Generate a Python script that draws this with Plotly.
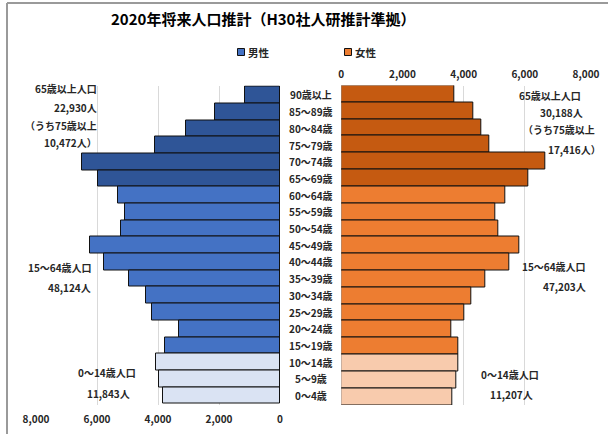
import plotly.graph_objects as go

W, H = 608, 434

ages = ["90歳以上", "85～89歳", "80～84歳", "75～79歳", "70～74歳", "65～69歳",
        "60～64歳", "55～59歳", "50～54歳", "45～49歳", "40～44歳", "35～39歳",
        "30～34歳", "25～29歳", "20～24歳", "15～19歳", "10～14歳", "5～9歳", "0～4歳"]
male = [1150, 2130, 3090, 4100, 6500, 5960,
        5300, 5080, 5210, 6220, 5760, 4950, 4400, 4200, 3320, 3760,
        4060, 3980, 3830]
female = [3690, 4310, 4590, 4850, 6670, 6120,
          5370, 5030, 5130, 5830, 5480, 4720, 4250, 4020, 3590, 3820,
          3840, 3750, 3620]
groups = ["65+"] * 6 + ["15-64"] * 10 + ["0-14"] * 3
male_colors = {"65+": "#2F5597", "15-64": "#4472C4", "0-14": "#DAE3F3"}
female_colors = {"65+": "#C55A11", "15-64": "#ED7D31", "0-14": "#F8CBAD"}
ticks = [0, 2000, 4000, 6000, 8000]

title = "2020年将来人口推計（H30社人研推計準拠）"
left_notes = [("65歳以上人口", 99, 88, "right"), ("22,930人", 99, 107, "right"),
              ("（うち75歳以上", 99, 125, "right"), ("10,472人）", 99, 143, "right"),
              ("15～64歳人口", 60, 267, "center"), ("48,124人", 69, 287, "center"),
              ("0～14歳人口", 107, 372, "center"), ("11,843人", 108, 393, "center")]
right_notes = [("65歳以上人口", 550, 95, "center"), ("30,188人", 561, 113, "center"),
               ("（うち75歳以上", 559, 130, "center"), ("17,416人）", 574, 149, "center"),
               ("15～64歳人口", 554, 266, "center"), ("47,203人", 564, 286, "center"),
               ("0～14歳人口", 510, 374, "center"), ("11,207人", 511, 394, "center")]

FONT = "Noto Sans CJK JP"
TXT = "#262626"


def px(x):
    return x / W


def py(y):
    return 1 - y / H


fig = go.Figure()
fig.add_trace(go.Bar(
    x=male, y=ages, orientation="h", name="男性", xaxis="x", yaxis="y",
    marker=dict(color=[male_colors[g] for g in groups], line=dict(color="#111", width=1)),
    showlegend=False, hoverinfo="x+y"))
fig.add_trace(go.Bar(
    x=female, y=ages, orientation="h", name="女性", xaxis="x2", yaxis="y2",
    marker=dict(color=[female_colors[g] for g in groups], line=dict(color="#111", width=1)),
    showlegend=False, hoverinfo="x+y"))

ydom = [py(405), py(85.5)]
tickfont = dict(family=FONT, size=10, color=TXT, weight="bold")
fig.update_layout(
    width=W, height=H, autosize=False, margin=dict(l=0, r=0, t=0, b=0, pad=0),
    paper_bgcolor="white", plot_bgcolor="rgba(0,0,0,0)",
    bargap=0,
    xaxis=dict(domain=[px(36), px(280)], range=[8000, 0], autorange=False, tickvals=ticks,
               tickformat=",", side="bottom", showgrid=True, gridcolor="#D9D9D9",
               gridwidth=1, zeroline=False, showline=False, ticks="",
               ticklabelstandoff=7,
               tickfont=tickfont, anchor="y", fixedrange=True, automargin=False),
    xaxis2=dict(domain=[px(341.3), px(586)], range=[0, 8000], autorange=False, tickvals=ticks,
                tickformat=",", side="top", showgrid=True, gridcolor="#D9D9D9",
                gridwidth=1, zeroline=False, showline=False, ticks="",
                ticklabelstandoff=5,
                tickfont=tickfont, anchor="y2", fixedrange=True, automargin=False),
    yaxis=dict(domain=ydom, autorange="reversed", showticklabels=False,
               showgrid=False, zeroline=False, anchor="x", type="category", automargin=False),
    yaxis2=dict(domain=ydom, autorange="reversed", showticklabels=False,
                showgrid=False, zeroline=False, anchor="x2", type="category", automargin=False),
)

annotations = []
annotations.append(dict(text=f"<b>{title}</b>", x=px(263), y=py(19), xref="paper", yref="paper",
                        showarrow=False, font=dict(family=FONT, size=15, color="#000"),
                        xanchor="center", yanchor="middle"))
for a in ages:
    annotations.append(dict(text=f"<b>{a}</b>", x=px(311), y=a, xref="paper", yref="y",
                            showarrow=False, font=dict(family=FONT, size=10, color=TXT),
                            xanchor="center", yanchor="middle"))
for t, x, y, anc in left_notes + right_notes:
    annotations.append(dict(text=f"<b>{t}</b>", x=px(x), y=py(y), xref="paper", yref="paper",
                            showarrow=False, font=dict(family=FONT, size=10, color=TXT),
                            xanchor=anc, yanchor="middle"))
# legend
legend_items = [("男性", 241, "#4472C4"), ("女性", 348, "#ED7D31")]
shapes = []
for name, x, col in legend_items:
    shapes.append(dict(type="rect", xref="paper", yref="paper",
                       x0=px(x - 3.5), x1=px(x + 3.5), y0=py(52 + 3.5), y1=py(52 - 3.5),
                       fillcolor=col, line=dict(color="#111", width=1)))
    annotations.append(dict(text=f"<b>{name}</b>", x=px(x + 5), y=py(52), xref="paper",
                            yref="paper", showarrow=False,
                            font=dict(family=FONT, size=10.5, color=TXT),
                            xanchor="left", yanchor="middle"))
# outer frame (top and left edges visible)
shapes.append(dict(type="line", xref="paper", yref="paper", x0=px(7), x1=1,
                   y0=py(3), y1=py(3), line=dict(color="#9A9A9A", width=2)))
shapes.append(dict(type="line", xref="paper", yref="paper", x0=px(7), x1=px(7),
                   y0=py(3), y1=0, line=dict(color="#9A9A9A", width=2)))
fig.update_layout(annotations=annotations, shapes=shapes)

fig.write_html("out.html", config={"displayModeBar": False},
               post_script="document.body.style.margin='0px';")
